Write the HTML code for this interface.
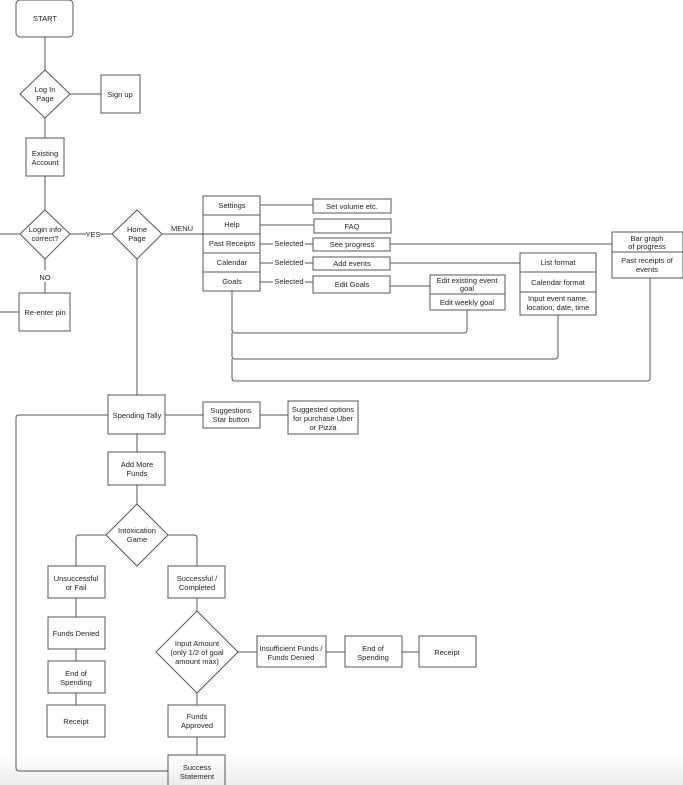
<!DOCTYPE html>
<html><head><meta charset="utf-8"><style>
html,body{margin:0;padding:0;background:#fff;}
svg{display:block}
text{font-family:"Liberation Sans",sans-serif;font-size:7.5px;fill:#222;text-anchor:middle;}
</style></head><body>
<svg width="683" height="785" viewBox="0 0 683 785" xmlns="http://www.w3.org/2000/svg">
<defs><linearGradient id="g" x1="0" y1="0" x2="0" y2="1"><stop offset="0" stop-color="#fff"/><stop offset="1" stop-color="#ececec"/></linearGradient></defs>
<rect x="0" y="755" width="683" height="30" fill="url(#g)"/>
<g fill="none" stroke="#555" stroke-width="1">
<!-- connectors -->
<path d="M45 37V70M70 94H101M45 118V138M45 176V210M0 234H20M70 234H86M100 234H112M45 259V270M45 282V293M0 312H19M162 234H203M137 259V395"/>
<path d="M260 205H313M260 225H314M260 244H273M305 244H313M260 263H273M305 263H313M260 282H273M305 282H313"/>
<path d="M390 244H612M390 263H520M390 286H430"/>
<path d="M232 291V330Q232 333 235 333H464Q467 333 467 330V310M232 333V356Q232 359 235 359H555Q558 359 558 356V315M232 359V378Q232 381 235 381H647Q650 381 650 378V278"/>
<path d="M165 415H203M260 415H288M137 434V452M137 485V504M106 535H79Q76 535 76 538V566M168 535H194Q197 535 197 538V566M76 598V617M76 649V661M76 693V705M197 598V611M197 693V705M197 737V755M238 652H257M326 652H345M402 652H419"/>
<path d="M108 415H19Q16 415 16 418V768Q16 771 19 771H168"/>
<!-- boxes -->
<rect x="16" y="0" width="57" height="37" rx="4"/>
<rect x="101" y="75" width="39" height="38"/>
<rect x="26" y="138" width="38" height="38"/>
<rect x="19" y="293" width="51" height="38"/>
<path d="M45 70L70 94L45 118L20 94Z"/>
<path d="M45 210L70 234L45 259L20 234Z"/>
<path d="M137 210L162 234L137 259L112 234Z"/>
<rect x="203" y="196" width="57" height="95"/>
<path d="M203 215H260M203 234H260M203 253H260M203 272H260"/>
<rect x="313" y="199" width="78" height="14"/>
<rect x="314" y="219" width="77" height="14"/>
<rect x="313" y="238" width="77" height="13"/>
<rect x="313" y="257" width="77" height="13"/>
<rect x="313" y="276" width="77" height="17"/>
<rect x="430" y="275" width="75" height="35"/><path d="M430 294H505"/>
<rect x="520" y="253" width="76" height="62"/><path d="M520 272H596M520 292H596"/>
<rect x="612" y="232" width="71" height="46"/><path d="M612 252H683"/>
<rect x="108" y="395" width="57" height="39"/>
<rect x="203" y="402" width="57" height="26"/>
<rect x="288" y="401" width="70" height="33"/>
<rect x="108" y="452" width="57" height="33"/>
<path d="M137 504L168 535L137 566L106 535Z"/>
<rect x="48" y="566" width="57" height="32"/>
<rect x="168" y="566" width="57" height="32"/>
<rect x="48" y="617" width="57" height="32"/>
<rect x="48" y="661" width="57" height="32"/>
<rect x="47" y="705" width="58" height="32"/>
<path d="M197 611L238 652L197 693L156 652Z"/>
<rect x="257" y="636" width="69" height="31"/>
<rect x="345" y="636" width="57" height="31"/>
<rect x="419" y="636" width="57" height="31"/>
<rect x="168" y="705" width="57" height="32"/>
<rect x="168" y="755" width="57" height="35"/>
</g>
<text x="45" y="21">START</text>
<text x="45" y="92">Log In</text><text x="45" y="101">Page</text>
<text x="120" y="97">Sign up</text>
<text x="45" y="156">Existing</text><text x="45" y="165">Account</text>
<text x="45" y="232">Login info</text><text x="45" y="241">correct?</text>
<text x="93" y="237">YES</text>
<text x="45" y="280">NO</text>
<text x="45" y="315">Re-enter pin</text>
<text x="137" y="232">Home</text><text x="137" y="241">Page</text>
<text x="182" y="231">MENU</text>
<text x="232" y="208">Settings</text>
<text x="232" y="227">Help</text>
<text x="232" y="246">Past Receipts</text>
<text x="232" y="265">Calendar</text>
<text x="232" y="284">Goals</text>
<text x="289" y="246">Selected</text>
<text x="289" y="265">Selected</text>
<text x="289" y="284">Selected</text>
<text x="352" y="209">Set volume etc.</text>
<text x="352" y="229">FAQ</text>
<text x="352" y="247">See progress</text>
<text x="352" y="266">Add events</text>
<text x="352" y="287">Edit Goals</text>
<text x="467" y="283">Edit existing event</text><text x="467" y="291">goal</text>
<text x="467" y="305">Edit weekly goal</text>
<text x="558" y="265">List format</text>
<text x="558" y="285">Calendar format</text>
<text x="558" y="301">Input event name,</text><text x="558" y="310">location, date, time</text>
<text x="647" y="241">Bar graph</text><text x="647" y="249">of progress</text>
<text x="647" y="263">Past receipts of</text><text x="647" y="272">events</text>
<text x="137" y="418">Spending Tally</text>
<text x="231" y="413">Suggestions</text><text x="231" y="422">Star button</text>
<text x="323" y="412">Suggested options</text><text x="323" y="421">for purchase Uber</text><text x="323" y="430">or Pizza</text>
<text x="137" y="467">Add More</text><text x="137" y="476">Funds</text>
<text x="137" y="533">Intoxication</text><text x="137" y="542">Game</text>
<text x="76" y="581">Unsuccessful</text><text x="76" y="590">or Fail</text>
<text x="197" y="581">Successful /</text><text x="197" y="590">Completed</text>
<text x="76" y="636">Funds Denied</text>
<text x="76" y="676">End of</text><text x="76" y="685">Spending</text>
<text x="76" y="724">Receipt</text>
<text x="197" y="646">Input Amount</text><text x="197" y="655">(only 1/2 of goal</text><text x="197" y="664">amount max)</text>
<text x="291" y="651">Insufficient Funds /</text><text x="291" y="660">Funds Denied</text>
<text x="373" y="651">End of</text><text x="373" y="660">Spending</text>
<text x="447" y="655">Receipt</text>
<text x="197" y="719">Funds</text><text x="197" y="728">Approved</text>
<text x="197" y="770">Success</text><text x="197" y="779">Statement</text>
</svg>
</body></html>
